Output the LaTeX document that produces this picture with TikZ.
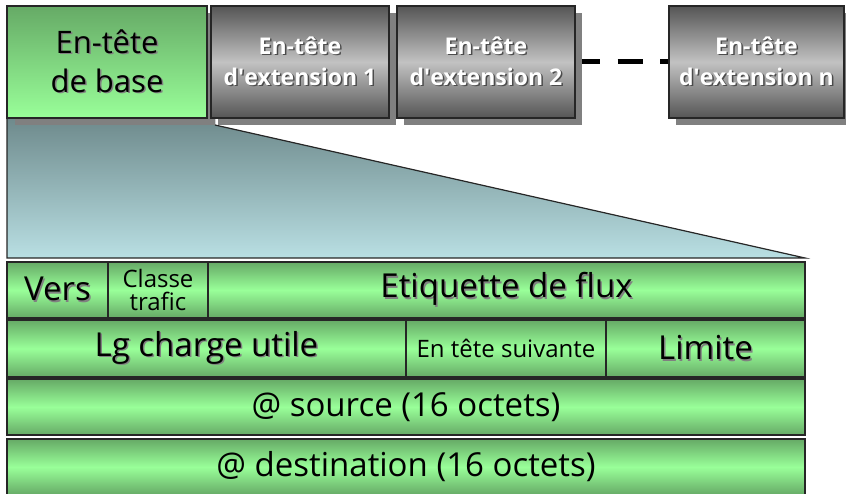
\documentclass[tikz,border=0pt]{standalone}
\usepackage{fontspec}
\setmainfont{Open Sans}
\usetikzlibrary{shadows,backgrounds}

\definecolor{vertclair}{HTML}{99FF99}
\definecolor{vertfonce}{HTML}{66AA66}
\definecolor{grisclair}{HTML}{C2C2C2}
\definecolor{grisfonce}{HTML}{555555}
\definecolor{ombregris}{HTML}{808080}
\definecolor{bleuhaut}{HTML}{6E8A8C}
\definecolor{bleubas}{HTML}{B9DFE3}

% texte avec une ombre portee
\newcommand{\ombre}[2][gray]{\makebox[0pt][l]{\hspace{1.5pt}\raisebox{-1.5pt}{\textcolor{#1}{#2}}}#2}

\begin{document}
\begin{tikzpicture}[x=1pt, y=-1pt,
  every node/.style={inner sep=0pt, outer sep=0pt, draw=black!85, line width=1.2pt, align=center},
  champ/.style={top color=vertfonce, bottom color=vertfonce, middle color=vertclair},
  grand/.style={font=\fontsize{33}{38}\selectfont},
  petit/.style={font=\fontsize{24}{23}\selectfont},
  ext/.style={top color=grisfonce, bottom color=grisfonce, middle color=grisclair,
    text=white, font=\bfseries\fontsize{23}{31}\selectfont,
    minimum width=178pt, minimum height=112pt,
    drop shadow={shadow xshift=7pt, shadow yshift=-7pt, fill=ombregris, opacity=1}}]
\useasboundingbox (0,0) rectangle (846,494);

\node[top color=vertfonce, bottom color=vertclair, font=\fontsize{31}{39}\selectfont,
  minimum width=200pt, minimum height=112pt,
  drop shadow={shadow xshift=8pt, shadow yshift=-7pt, fill=ombregris, opacity=1}]
  (base) at (107,62) {\ombre{En-tête}\\\ombre{de base}};
\node[ext] (ext1) at (300,62) {\ombre[black!70]{En-tête}\\\ombre[black!70]{d\textquotesingle extension 1}};
\node[ext] (ext2) at (486,62) {\ombre[black!70]{En-tête}\\\ombre[black!70]{d\textquotesingle extension 2}};
\node[ext, minimum width=175pt] (extn) at (756.5,62) {\ombre[black!70]{En-tête}\\\ombre[black!70]{d\textquotesingle extension n}};

\node[champ, grand, minimum width=101pt, minimum height=56pt] (vers) at (57.5,290) {\ombre{Vers}};
\node[champ, petit, minimum width=100pt, minimum height=56pt] (classe) at (158,290) {Classe\\trafic};
\node[champ, grand, minimum width=597pt, minimum height=56pt] (etiquette) at (506.5,290) {\ombre{Etiquette de flux}};

\node[champ, grand, minimum width=399pt, minimum height=57pt] (lg) at (206.5,348.5) {\ombre{Lg charge utile}};
\node[champ, petit, minimum width=200pt, minimum height=57pt] (suivant) at (506,348.5) {En tête suivante};
\node[champ, grand, minimum width=199pt, minimum height=57pt] (limite) at (705.5,348.5) {\ombre{Limite}};

\node[champ, grand, minimum width=798pt, minimum height=56pt] (source) at (406,407) {@ source (16 octets)};
\node[champ, grand, minimum width=798pt, minimum height=56pt] (dest) at (406,467) {@ destination (16 octets)};

\begin{scope}[on background layer]
\coordinate (coin) at (215,125);
\coordinate (bas) at (805,258);
\fill[top color=bleuhaut, bottom color=bleubas] (base.south west) -- (215,118) -- (coin) -- (bas) -- (7,258) -- cycle;
\draw[black!85, line width=1.2pt] (base.south west) -- (7,258) -- (bas) -- (coin);
\draw[line width=5pt, dash pattern=on 25pt off 17.5pt] (ext2.east) -- (extn.west);
\end{scope}
\end{tikzpicture}
\end{document}
